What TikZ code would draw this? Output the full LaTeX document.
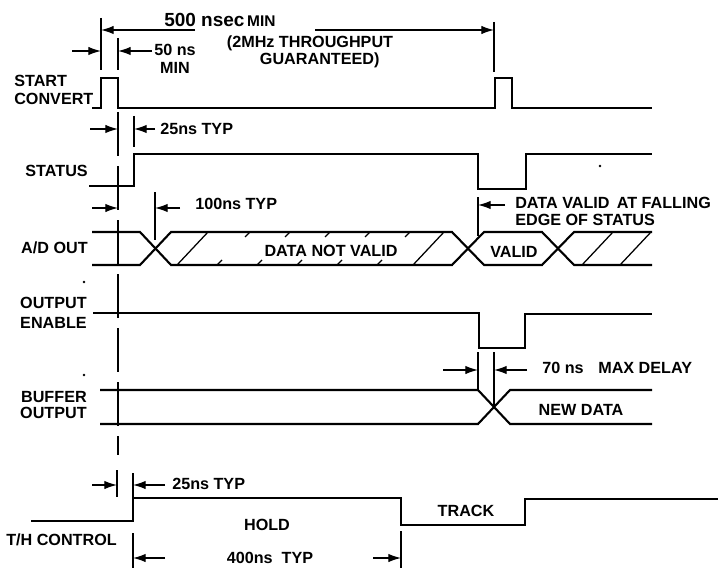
\documentclass[tikz,border=0pt]{standalone}
\usepackage{fontspec}
\setmainfont{Liberation Sans}
\usetikzlibrary{arrows.meta}
\tikzset{
  sig/.style={line width=1.5pt, line join=miter},
  tick/.style={line width=0.9pt},
  guide/.style={line width=0.9pt, dash pattern=on 1.1cm off 0.25cm},
  dimarrow/.style={-{Latex[length=9pt, width=6pt]}, line width=0.9pt},
  lbl/.style={font=\fontsize{11.5}{12}\selectfont\bfseries, inner sep=0pt, align=center},
  signame/.style={lbl, align=right, anchor=east},
  speck/.style={fill, circle, inner sep=0pt, minimum size=2pt},
}

\begin{document}
\begin{tikzpicture}[x=0.025cm, y=-0.025cm]
  \useasboundingbox (0,0) rectangle (720,570);

  % Signal names
  \node[lbl, align=left, anchor=west, font=\fontsize{11.5}{12.5}\selectfont\bfseries]
    (sc) at (14,90) {START\\CONVERT};
  \node[signame] (st) at (88,171) {STATUS};
  \node[signame] (ad) at (88,248) {A/D OUT};
  \node[signame, font=\fontsize{11.5}{14}\selectfont\bfseries] (oe) at (87,313) {OUTPUT\\ENABLE};
  \node[signame] (bo) at (87,405) {BUFFER\\OUTPUT};
  \node[lbl, anchor=west] (th) at (6,540) {T/H CONTROL};

  % Waveforms
  \draw[sig] (92,108) -- (101,108) -- (101,78) -- (118,78) -- (118,108)
    -- (495,108) -- (495,78) -- (512,78) -- (512,108) -- (652,108);
  \draw[sig] (89,186) -- (134,186) -- (134,154) -- (478,154) -- (478,189)
    -- (526,189) -- (526,154) -- (652,154);
  \draw[sig] (92,232) -- (140,232) -- (171,265) -- (452,265) -- (484,232)
    -- (542,232) -- (574,265) -- (652,265);
  \draw[sig] (92,265) -- (140,265) -- (171,232) -- (452,232) -- (484,265)
    -- (542,265) -- (574,232) -- (652,232);
  \draw[sig] (93,313) -- (479,313) -- (479,348) -- (525,348) -- (525,314)
    -- (652,314);
  \draw[sig] (100,390) -- (478,390) -- (510,424) -- (652,424);
  \draw[sig] (100,424) -- (478,424) -- (510,390) -- (652,390);
  \draw[sig] (31,521) -- (133,521) -- (133,498) -- (401,498) -- (401,525)
    -- (525,525) -- (525,499) -- (718,499);

  % Hatching of the invalid data
  \foreach \x in {177,413,582,620}
    \draw[tick] (\x,265) -- ++(31,-33);
  \foreach \x in {217,257,297,337,377} {
    \draw[tick] (\x,265) -- ++(5,-5);
    \draw[tick] (\x+28,237) -- ++(5,-5);
  }

  % Bus texts
  \node[lbl] (dnv) at (331,251) {DATA NOT VALID};
  \node[lbl] (val) at (514,252) {VALID};
  \node[lbl] (nd) at (581,410) {NEW DATA};
  \node[lbl] (hold) at (267,525) {HOLD};
  \node[lbl] (trk) at (466,511) {TRACK};

  % Reference edge
  \draw[guide] (118,112) -- (118,455);

  % 500 nsec
  \coordinate (p1) at (101,30);
  \coordinate (p2) at (494,30);
  \draw[tick] (101,18) -- (101,70);
  \draw[tick] (494,22) -- (494,72);
  \draw[dimarrow] (p1) ++(94,0) -- (p1);
  \draw[dimarrow] (p2) ++(-179,0) -- (p2);
  \node[lbl, anchor=base west] (t500) at (164,27)
    {{\fontsize{13.5}{16}\selectfont 500 nsec}\,{\fontsize{11}{12}\selectfont MIN}};
  \node[lbl] (thru) at (310,52)
    {(2MHz THROUGHPUT\\\hspace*{1.2em}GUARANTEED)};

  % 50 ns
  \coordinate (w1) at (101,51);
  \coordinate (w2) at (118,51);
  \draw[tick] (118,38) -- (118,70);
  \draw[dimarrow] (w1) ++(-29,0) -- (w1);
  \draw[dimarrow] (w2) ++(34,0) -- (w2);
  \node[lbl, font=\fontsize{11.5}{13}\selectfont\bfseries] (t50) at (175,59) {50 ns\\MIN};

  % 25ns status delay
  \coordinate (s1) at (118,129);
  \coordinate (s2) at (134,129);
  \draw[tick] (134,116) -- (134,147);
  \draw[dimarrow] (s1) ++(-28,0) -- (s1);
  \draw[dimarrow] (s2) ++(21,0) -- (s2);
  \node[lbl, anchor=west] (t25a) at (160,129) {25ns TYP};

  % 100ns data delay
  \coordinate (d1) at (118,208);
  \coordinate (d2) at (155,208);
  \draw[tick] (155,192) -- (155,240);
  \draw[dimarrow] (d1) ++(-26,0) -- (d1);
  \draw[dimarrow] (d2) ++(25,0) -- (d2);
  \node[lbl, anchor=west] (t100) at (195,204) {100ns TYP};

  % Data valid
  \coordinate (v1) at (478,205);
  \draw[tick] (478,197) -- (478,236);
  \draw[dimarrow] (v1) ++(27,0) -- (v1);
  \node[lbl, align=left, anchor=west] (tdv) at (515,211)
    {DATA VALID \,AT FALLING\\EDGE OF STATUS};

  % 70 ns
  \coordinate (e1) at (478,370);
  \coordinate (e2) at (494,370);
  \draw[tick] (478,352) -- (478,390);
  \draw[tick] (494,352) -- (494,407);
  \draw[dimarrow] (e1) ++(-35,0) -- (e1);
  \draw[dimarrow] (e2) ++(33,0) -- (e2);
  \node[lbl, anchor=west] (t70) at (542,368) {70 ns};
  \node[lbl, anchor=west] (tmax) at (598,368) {MAX DELAY};

  % 25ns track/hold delay
  \coordinate (h1) at (117,485);
  \coordinate (h2) at (133,485);
  \draw[tick] (117,470) -- (117,497);
  \draw[tick] (133,473) -- (133,497);
  \draw[dimarrow] (h1) ++(-25,0) -- (h1);
  \draw[dimarrow] (h2) ++(32,0) -- (h2);
  \node[lbl, anchor=west] (t25b) at (172,484) {25ns TYP};

  % 400ns hold
  \coordinate (k1) at (133,558);
  \coordinate (k2) at (401,558);
  \draw[tick] (133,533) -- (133,568);
  \draw[tick] (401,531) -- (401,568);
  \draw[dimarrow] (k1) ++(32,0) -- (k1);
  \draw[dimarrow] (k2) ++(-28,0) -- (k2);
  \node[lbl] (t400) at (270,558) {400ns\ \ TYP};

  % Specks
  \node[speck] (sp1) at (84,282) {};
  \node[speck] (sp2) at (84,375) {};
  \node[speck] (sp3) at (600,166) {};

\end{tikzpicture}
\end{document}
